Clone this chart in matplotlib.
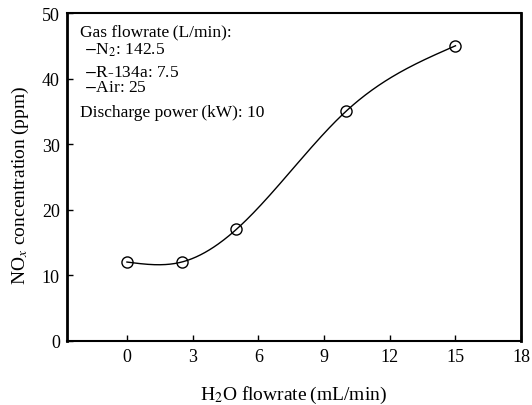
import numpy as np
import matplotlib
matplotlib.use("Agg")
import matplotlib.pyplot as plt

# data
h2o_flow = [0, 2.5, 5, 10, 15]
nox_ppm = [12, 12, 17, 35, 45]
xticks = [0, 3, 6, 9, 12, 15, 18]
yticks = [0, 10, 20, 30, 40, 50]

plt.rcParams['font.family'] = ['Liberation Serif', 'DejaVu Serif']
plt.rcParams['mathtext.fontset'] = 'stix'


# natural cubic spline through the points (no scipy here)
def natural_spline(x, y, xs):
    x = np.asarray(x, float)
    y = np.asarray(y, float)
    n = len(x)
    h = np.diff(x)
    A = np.zeros((n, n))
    b = np.zeros(n)
    A[0, 0] = 1
    A[-1, -1] = 1
    for i in range(1, n - 1):
        A[i, i - 1] = h[i - 1]
        A[i, i] = 2 * (h[i - 1] + h[i])
        A[i, i + 1] = h[i]
        b[i] = 6 * ((y[i + 1] - y[i]) / h[i] - (y[i] - y[i - 1]) / h[i - 1])
    M = np.linalg.solve(A, b)
    out = np.zeros_like(xs)
    for k, xv in enumerate(xs):
        i = min(max(np.searchsorted(x, xv) - 1, 0), n - 2)
        t1 = x[i + 1] - xv
        t2 = xv - x[i]
        out[k] = (M[i] * t1**3 + M[i + 1] * t2**3) / (6 * h[i]) \
            + (y[i] / h[i] - M[i] * h[i] / 6) * t1 \
            + (y[i + 1] / h[i] - M[i + 1] * h[i] / 6) * t2
    return out


fig = plt.figure(figsize=(5.32, 4.06), dpi=100)
ax = fig.add_axes([0.1254, 0.1584, 0.8543, 0.8071])

xs = np.linspace(h2o_flow[0], h2o_flow[-1], 300)
ax.plot(xs, natural_spline(h2o_flow, nox_ppm, xs), color='black', lw=1.0)
ax.plot(h2o_flow, nox_ppm, 'o', ms=8, mfc='none', mec='black', mew=1.0)

ax.set_xlim(-2.75, 18)
ax.set_ylim(0, 50)
ax.set_xticks(xticks)
ax.set_yticks(yticks)
ax.tick_params(direction='in', labelsize=13, length=4, width=1, pad=5)
for s in ['left', 'right']:
    ax.spines[s].set_linewidth(2.0)
for s in ['top', 'bottom']:
    ax.spines[s].set_linewidth(1.5)

ax.set_xlabel('H$_2$O flowrate\u2009(mL/min)', fontsize=14, labelpad=14)
ax.set_ylabel('NO$_x$ concentration\u2009(ppm)', fontsize=14)
ax.yaxis.set_label_coords(-0.078, 0.478)

tx = dict(transform=ax.transAxes, fontsize=12.5, va='center', ha='left')
ax.text(0.029, 0.945, 'Gas flowrate\u2009(L/min):', **tx)
ax.text(0.038, 0.890, r'$-$N$_2$: 142.5', **tx)
ax.text(0.038, 0.820, r'$-$R-134a: 7.5', **tx)
ax.text(0.038, 0.774, r'$-$Air: 25', **tx)
ax.text(0.029, 0.698, 'Discharge power\u2009(kW): 10', **tx)

fig.savefig('out.png', dpi=100)
